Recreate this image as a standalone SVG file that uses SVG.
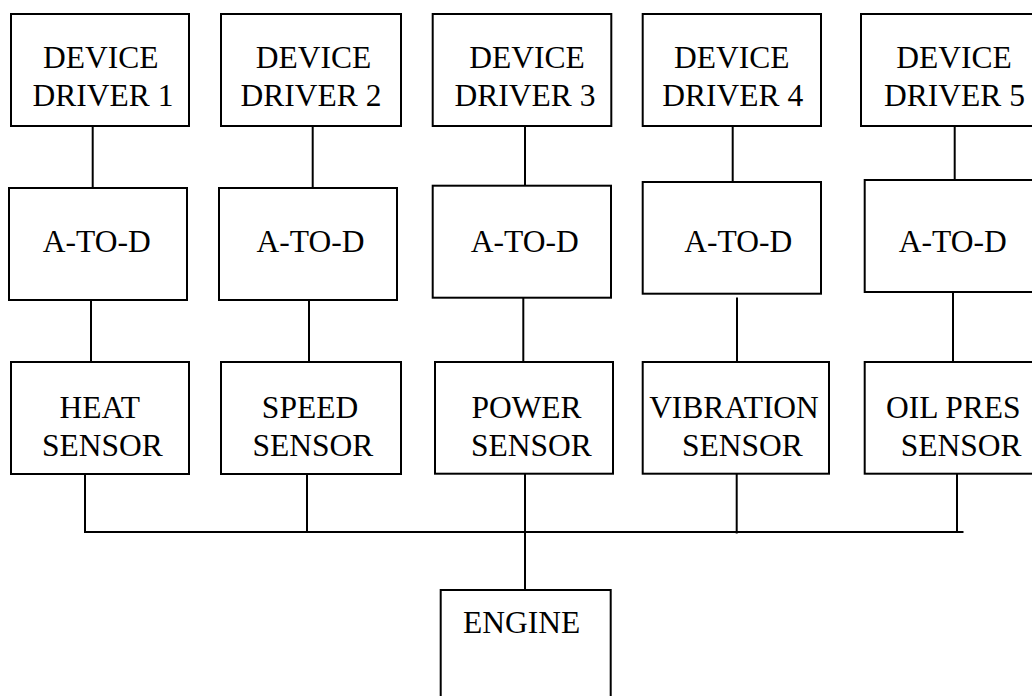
<svg xmlns="http://www.w3.org/2000/svg" width="1032" height="696" viewBox="0 0 1032 696">
<style>
.box{fill:#fff;stroke:#000;stroke-width:2}
.t{font-family:"Liberation Serif","Times New Roman",serif;font-size:31.5px;fill:#000;text-anchor:middle}
.c line{stroke:#000;stroke-width:2}
</style>
<rect width="1032" height="696" fill="#fff"/>
<g class="c" id="connectors">
<line x1="92.7" y1="126" x2="92.7" y2="188"/>
<line x1="312.7" y1="126" x2="312.7" y2="190"/>
<line x1="525" y1="126" x2="525" y2="188"/>
<line x1="732.7" y1="126" x2="732.7" y2="182"/>
<line x1="954.7" y1="126" x2="954.7" y2="183"/>
<line x1="91" y1="300" x2="91" y2="362"/>
<line x1="309" y1="300" x2="309" y2="362"/>
<line x1="523.3" y1="298" x2="523.3" y2="362"/>
<line x1="737" y1="297.5" x2="737" y2="364"/>
<line x1="953" y1="292" x2="953" y2="366"/>
<line x1="85" y1="469" x2="85" y2="532"/>
<line x1="307" y1="474" x2="307" y2="532"/>
<line x1="525" y1="474" x2="525" y2="590"/>
<line x1="736.7" y1="474" x2="736.7" y2="533.5"/>
<line x1="957" y1="474" x2="957" y2="532"/>
<line x1="84" y1="532" x2="963.5" y2="532"/>
</g>
<g id="dd1"><rect class="box" x="11" y="14" width="178" height="112"/><text class="t" x="100.8" y="68.3">DEVICE</text><text class="t" x="103" y="106">DRIVER 1</text></g>
<g id="dd2"><rect class="box" x="221" y="14" width="180" height="112"/><text class="t" x="313.5" y="68.3">DEVICE</text><text class="t" x="311" y="106">DRIVER 2</text></g>
<g id="dd3"><rect class="box" x="432.7" y="14" width="178.6" height="112"/><text class="t" x="527" y="68.3">DEVICE</text><text class="t" x="525" y="106">DRIVER 3</text></g>
<g id="dd4"><rect class="box" x="642.7" y="14" width="178.3" height="112"/><text class="t" x="731.7" y="68.3">DEVICE</text><text class="t" x="732.8" y="106">DRIVER 4</text></g>
<g id="dd5"><rect class="box" x="861" y="14" width="180" height="112"/><text class="t" x="954" y="68.3">DEVICE</text><text class="t" x="954.5" y="106">DRIVER 5</text></g>
<g id="atd1"><rect class="box" x="9" y="188" width="178" height="112"/><text class="t" x="96.7" y="251.7">A-TO-D</text></g>
<g id="atd2"><rect class="box" x="219" y="188" width="178" height="112"/><text class="t" x="310.5" y="251.7">A-TO-D</text></g>
<g id="atd3"><rect class="box" x="432.7" y="185.7" width="178.3" height="112"/><text class="t" x="524.8" y="251.7">A-TO-D</text></g>
<g id="atd4"><rect class="box" x="642.7" y="182" width="178.3" height="111.7"/><text class="t" x="738.3" y="251.7">A-TO-D</text></g>
<g id="atd5"><rect class="box" x="864.7" y="180" width="180" height="112"/><text class="t" x="952.8" y="251.7">A-TO-D</text></g>
<g id="heat"><rect class="box" x="11" y="362" width="178" height="112"/><text class="t" x="99.7" y="418.3">HEAT</text><text class="t" x="102.5" y="456">SENSOR</text></g>
<g id="speed"><rect class="box" x="221" y="362" width="180" height="112"/><text class="t" x="310" y="418.3">SPEED</text><text class="t" x="312.8" y="456">SENSOR</text></g>
<g id="power"><rect class="box" x="435" y="362" width="178" height="111.7"/><text class="t" x="526.5" y="418">POWER</text><text class="t" x="531.5" y="455.5">SENSOR</text></g>
<g id="vibration"><rect class="box" x="642.7" y="362" width="186.3" height="111.7"/><text class="t" x="734" y="418.3">VIBRATION</text><text class="t" x="742.5" y="456">SENSOR</text></g>
<g id="oil"><rect class="box" x="864.7" y="362" width="180" height="111.7"/><text class="t" x="953.2" y="418.3">OIL PRES</text><text class="t" x="961.2" y="456">SENSOR</text></g>
<g id="engine"><rect class="box" x="440.7" y="590" width="170" height="120"/><text class="t" x="521.7" y="633.3">ENGINE</text></g>
</svg>
